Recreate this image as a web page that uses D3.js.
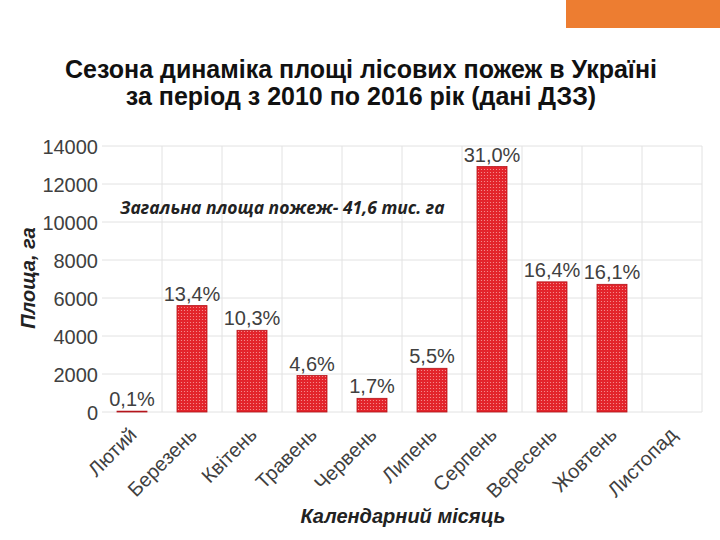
<!DOCTYPE html>
<html><head><meta charset="utf-8">
<script src="https://cdn.jsdelivr.net/npm/d3@7"></script>
<style>body{margin:0;background:#fff}</style>
</head><body>
<svg id="c" width="720" height="540"></svg>
<script>
const months = ["Лютий","Березень","Квітень","Травень","Червень","Липень","Серпень","Вересень","Жовтень","Листопад"];
const areas = [45, 5600, 4300, 1920, 720, 2300, 12920, 6850, 6720, 0];
const pctLabels = ["0,1%","13,4%","10,3%","4,6%","1,7%","5,5%","31,0%","16,4%","16,1%",""];
const yTicks = [0,2000,4000,6000,8000,10000,12000,14000];
const titleLines = ["Сезона динаміка площі лісових пожеж в Україні","за період з 2010 по 2016 рік (дані ДЗЗ)"];
const note = "Загальна площа пожеж- 41,6 тис. га";
const yTitle = "Площа, га";
const xTitle = "Календарний місяць";

const svg = d3.select("#c");
const defs = svg.append("defs");
const pat = defs.append("pattern").attr("id","dots").attr("patternUnits","userSpaceOnUse").attr("width",3).attr("height",3);
pat.append("rect").attr("width",3).attr("height",3).attr("fill","#e3242b");
pat.append("circle").attr("cx",1.5).attr("cy",1.5).attr("r",0.6).attr("fill","#f79a9a");

svg.append("rect").attr("x",566).attr("y",0).attr("width",154).attr("height",28).attr("fill","#ed7d31");

const title = svg.append("text").attr("text-anchor","middle").attr("font-family","Liberation Sans, Arial, sans-serif").attr("font-weight","bold").attr("font-size",25).attr("fill","#111");
titleLines.forEach((t,i)=>title.append("tspan").attr("x",361).attr("y",78+i*27).text(t));

const x = d3.scaleBand().domain(months).range([102,702]).paddingInner(0.5).paddingOuter(0.25);
const y = d3.scaleLinear().domain([0,14000]).range([412,146]);

const g = svg.append("g");
g.selectAll(".hg").data(yTicks).join("line").attr("x1",102).attr("x2",702)
  .attr("y1",d=>y(d)).attr("y2",d=>y(d)).attr("stroke","#e2e2e2").attr("stroke-width",1);
const step = x.step();
const bounds = d3.range(months.length+1).map(i=>102+i*step);
g.selectAll(".vg").data(bounds.slice(1)).join("line").attr("x1",d=>d).attr("x2",d=>d)
  .attr("y1",146).attr("y2",412).attr("stroke","#e2e2e2").attr("stroke-width",1);

const yAxis = d3.axisLeft(y).tickValues(yTicks).tickFormat(d3.format("d")).tickSize(0).tickPadding(0);
const ya = svg.append("g").attr("transform","translate(98,0)").call(yAxis);
ya.select(".domain").remove();
ya.selectAll("text").attr("font-family","Liberation Sans, Arial, sans-serif").attr("font-size",20).attr("fill","#404040").attr("dy","0.35em");

g.selectAll(".bar").data(months).join("rect")
  .attr("x",d=>x(d)).attr("width",x.bandwidth())
  .attr("y",(d,i)=>y(areas[i])).attr("height",(d,i)=>y(0)-y(areas[i]))
  .attr("fill","url(#dots)").attr("stroke","#b3141b").attr("stroke-width",0.8);

g.selectAll(".vl").data(months).join("text")
  .attr("x",d=>x(d)+x.bandwidth()/2).attr("y",(d,i)=>y(areas[i])-5)
  .attr("text-anchor","middle").attr("font-family","Liberation Sans, Arial, sans-serif")
  .attr("font-size",20).attr("fill","#404040").text((d,i)=>pctLabels[i]);

const xAxis = d3.axisBottom(x).tickSize(0).tickPadding(0);
const xa = svg.append("g").attr("transform","translate(0,420)").call(xAxis);
xa.select(".domain").remove();
xa.selectAll("text").attr("font-family","Liberation Sans, Arial, sans-serif").attr("font-size",20).attr("fill","#404040")
  .attr("text-anchor","end").attr("y",0).attr("dy",0).attr("transform","translate(6,16) rotate(-45)");

svg.append("text").attr("x",120).attr("y",214).attr("font-family","Open Sans, sans-serif").attr("font-weight","bold").attr("font-style","italic").attr("font-size",17.5).attr("fill","#222").text(note);

svg.append("text").attr("transform","translate(35,278) rotate(-90)").attr("text-anchor","middle")
  .attr("font-family","Liberation Sans, Arial, sans-serif").attr("font-weight","bold").attr("font-style","italic").attr("font-size",20).attr("fill","#222").text(yTitle);
svg.append("text").attr("x",403).attr("y",523).attr("text-anchor","middle")
  .attr("font-family","Liberation Sans, Arial, sans-serif").attr("font-weight","bold").attr("font-style","italic").attr("font-size",20).attr("fill","#222").text(xTitle);
</script>
</body></html>
